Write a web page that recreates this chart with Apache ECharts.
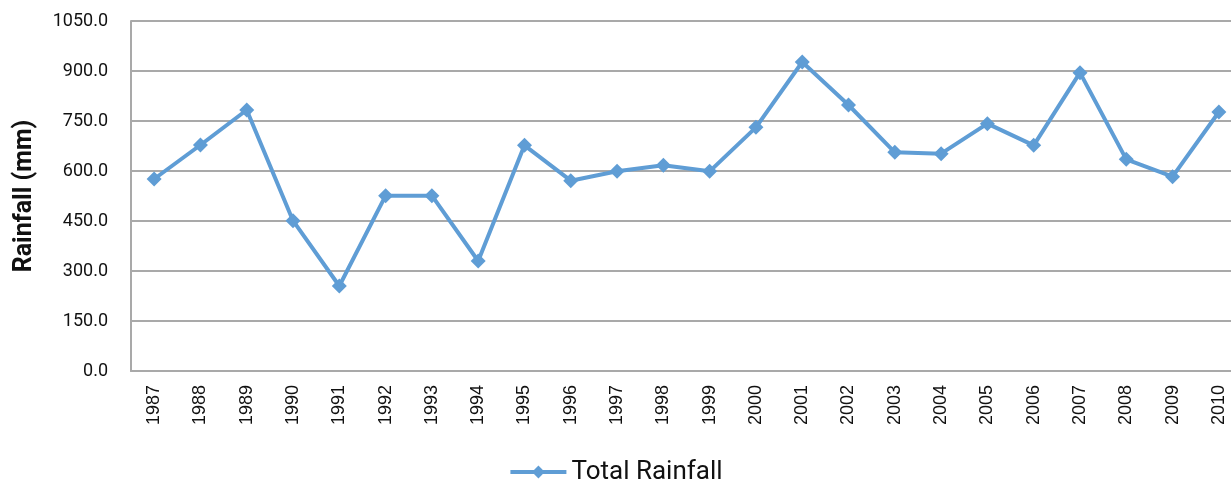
<!DOCTYPE html>
<html>
<head>
<meta charset="utf-8">
<script src="https://cdn.jsdelivr.net/npm/echarts@6/dist/echarts.min.js"></script>
<style>
  html, body { margin: 0; padding: 0; background: #fff; }
  #chart { width: 1231px; height: 479px; }
</style>
</head>
<body>
<div id="chart"></div>
<script>
// years on the category axis
const years = ['1987', '1988', '1989', '1990', '1991', '1992', '1993', '1994', '1995', '1996', '1997', '1998',
  '1999', '2000', '2001', '2002', '2003', '2004', '2005', '2006', '2007', '2008', '2009', '2010']
// total rainfall per year (mm)
const totalRainfall = [576, 678, 783, 451, 255, 526, 526, 330, 677, 571, 599, 617,
  599, 731, 927, 798, 656, 652, 742, 677, 895, 635, 583, 777]
const yMin = 0
const yMax = 1050
const yStep = 150

const chart = echarts.init(document.getElementById('chart'))
const grey = '#a9a9a9'
const blue = '#5f9dd5'

chart.setOption({
  animation: false,
  textStyle: { fontFamily: 'Roboto' },
  grid: {
    left: 131,
    right: -11,
    top: 21,
    bottom: 108,
    outerBoundsMode: 'none',
  },
  legend: {
    top: 454,
    left: 'center',
    itemWidth: 56,
    itemHeight: 16,
    itemGap: 4,
    lineStyle: { width: 4 },
    textStyle: { fontSize: 26, color: '#111', fontFamily: 'Roboto' },
    data: ['Total Rainfall'],
  },
  xAxis: {
    type: 'category',
    data: years,
    boundaryGap: true,
    axisLine: { lineStyle: { color: grey, width: 2 } },
    axisTick: { show: false },
    axisLabel: {
      rotate: 90,
      margin: 14,
      fontSize: 18,
      color: '#111',
      fontFamily: 'Liberation Sans',
      interval: 0,
    },
  },
  yAxis: {
    type: 'value',
    min: yMin,
    max: yMax,
    interval: yStep,
    name: 'Rainfall (mm)',
    nameLocation: 'middle',
    nameGap: 94,
    nameRotate: 90,
    nameTextStyle: { fontSize: 25, fontWeight: 'bold', color: '#111' },
    axisLine: { show: true, lineStyle: { color: grey, width: 2 } },
    axisTick: { show: false },
    splitLine: { lineStyle: { color: grey, width: 2 } },
    axisLabel: {
      margin: 23,
      fontSize: 18,
      color: '#111',
      formatter: (v) => v.toFixed(1),
    },
  },
  series: [
    {
      name: 'Total Rainfall',
      type: 'line',
      data: totalRainfall,
      symbol: 'diamond',
      symbolSize: 15,
      lineStyle: { color: blue, width: 4 },
      itemStyle: { color: blue },
    },
  ],
})
</script>
</body>
</html>
